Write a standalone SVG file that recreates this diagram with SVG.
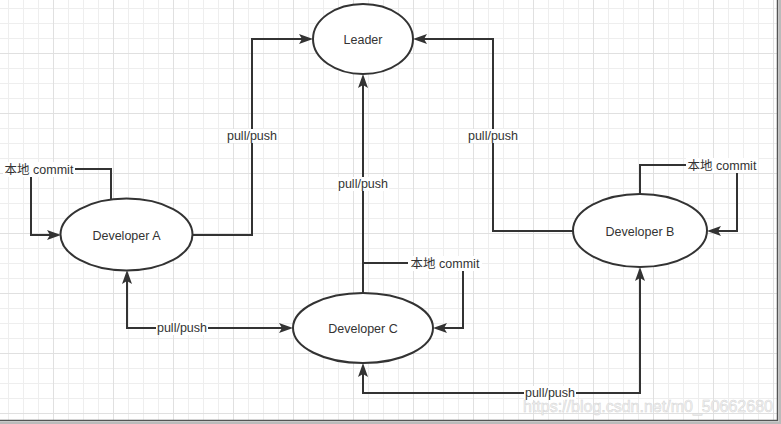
<svg xmlns="http://www.w3.org/2000/svg" width="781" height="424" viewBox="0 0 781 424">
  <defs>
    <pattern id="grid" patternUnits="userSpaceOnUse" x="-7" y="-7" width="60" height="60">
      <path d="M15.5,0 V60 M30.5,0 V60 M45.5,0 V60 M0,15.5 H60 M0,30.5 H60 M0,45.5 H60" stroke="#eeeeee" stroke-width="1" fill="none"/>
      <path d="M0.5,0 V60 M0,0.5 H60" stroke="#e0e0e0" stroke-width="1" fill="none"/>
    </pattern>
    <marker id="arrow" markerUnits="userSpaceOnUse" viewBox="0 0 14 10" markerWidth="14" markerHeight="10" refX="10" refY="5" orient="auto-start-reverse">
      <path d="M0,0 L14,5 L0,10 L3,5 Z" fill="#333333"/>
    </marker>
  </defs>
  <style>
    .node ellipse { fill: #ffffff; stroke: #333333; stroke-width: 2; }
    .node text { font-family: "Liberation Sans", Arial, sans-serif; font-size: 12.5px; fill: #333333; text-anchor: middle; }
    .edge { fill: none; stroke: #333333; stroke-width: 2; }
    .label text { font-family: "Liberation Sans", "Noto Sans CJK SC", sans-serif; font-size: 12.5px; fill: #333333; text-anchor: middle; }
    .label rect { fill: #ffffff; }
  </style>
  <rect width="781" height="424" fill="#ffffff"/>
  <rect width="777" height="420" fill="url(#grid)"/>

  <g id="connectors">
    <path class="edge" d="M193,235 H252 V39 H309" marker-end="url(#arrow)"/>
    <path class="edge" d="M573,231 H493 V39 H417" marker-end="url(#arrow)"/>
    <path class="edge" d="M363,293 V78" marker-end="url(#arrow)"/>
    <path class="edge" d="M363,293 V263 H463 V328 H437" marker-end="url(#arrow)"/>
    <path class="edge" d="M111,199 V169 H31 V235 H57" marker-end="url(#arrow)"/>
    <path class="edge" d="M640,194 V165 H737 V231 H711" marker-end="url(#arrow)"/>
    <path class="edge" d="M127,274 V328 H289" marker-start="url(#arrow)" marker-end="url(#arrow)"/>
    <path class="edge" d="M363,367 V393 H640 V271" marker-start="url(#arrow)" marker-end="url(#arrow)"/>
    <g class="label">
      <rect x="226" y="129" width="52" height="14"/><text x="252" y="140">pull/push</text>
      <rect x="467" y="129" width="52" height="14"/><text x="493" y="140">pull/push</text>
      <rect x="337" y="177" width="52" height="14"/><text x="363" y="188">pull/push</text>
      <rect x="156" y="321" width="52" height="14"/><text x="182" y="332">pull/push</text>
      <rect x="524" y="386" width="52" height="14"/><text x="550" y="397">pull/push</text>
      <rect x="3" y="162" width="72" height="15"/><text x="39" y="173.5">本地 commit</text>
      <rect x="408" y="256" width="74" height="15"/><text x="445" y="267.5">本地 commit</text>
      <rect x="686" y="158" width="72" height="15"/><text x="722" y="169.5">本地 commit</text>
    </g>
  </g>

  <g id="leader" class="node">
    <ellipse cx="363" cy="39" rx="50" ry="35"/>
    <text x="363" y="44">Leader</text>
  </g>
  <g id="developer-a" class="node">
    <ellipse cx="126.5" cy="234.5" rx="66" ry="36"/>
    <text x="126.5" y="239.5">Developer A</text>
  </g>
  <g id="developer-b" class="node">
    <ellipse cx="640" cy="230.5" rx="67" ry="36.5"/>
    <text x="640" y="235.5">Developer B</text>
  </g>
  <g id="developer-c" class="node">
    <ellipse cx="363" cy="328" rx="70" ry="35"/>
    <text x="363" y="333">Developer C</text>
  </g>

  <text x="523" y="412" font-family="Liberation Sans, Arial, sans-serif" font-size="16" fill="#f4f4f4" stroke="#d4d4d4" stroke-width="0.5">https://blog.csdn.net/m0_50662680</text>

  <path d="M777.5,0 V421" stroke="#555555" stroke-width="1.5" fill="none"/>
  <path d="M0,420.5 H778" stroke="#555555" stroke-width="1.5" fill="none"/>
  <rect x="778.5" y="0" width="2.5" height="424" fill="#bbbbbb"/>
  <rect x="0" y="421.5" width="781" height="2.5" fill="#bbbbbb"/>
</svg>
